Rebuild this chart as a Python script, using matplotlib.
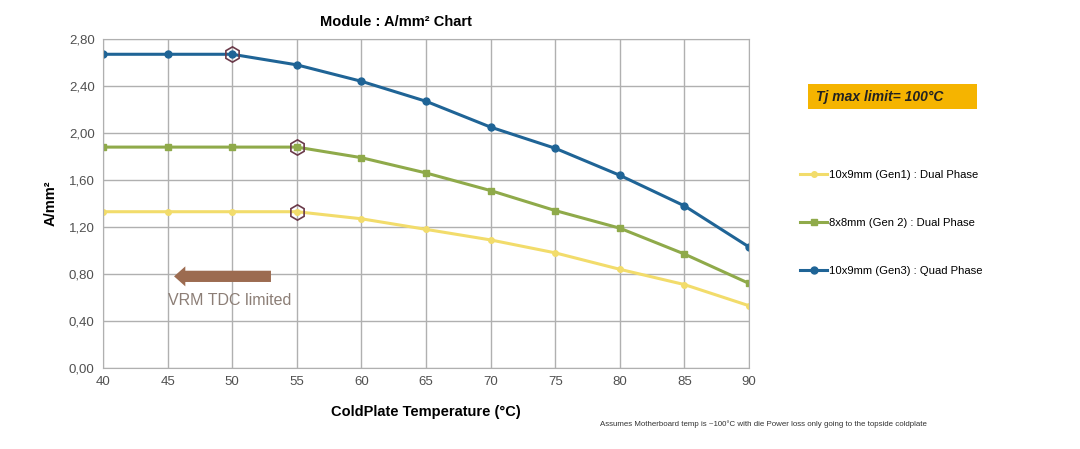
import matplotlib.pyplot as plt
from matplotlib.ticker import FuncFormatter
from matplotlib.patches import Rectangle

plt.rcParams['font.family'] = ['Liberation Sans', 'DejaVu Sans']

# Dados
temperatura = [40, 45, 50, 55, 60, 65, 70, 75, 80, 85, 90]
gen1 = [1.33, 1.33, 1.33, 1.33, 1.27, 1.18, 1.09, 0.98, 0.84, 0.71, 0.53]
gen2 = [1.88, 1.88, 1.88, 1.88, 1.79, 1.66, 1.51, 1.34, 1.19, 0.97, 0.72]
gen3 = [2.67, 2.67, 2.67, 2.58, 2.44, 2.27, 2.05, 1.87, 1.64, 1.38, 1.03]

rotulos = ['10x9mm (Gen1) : Dual Phase',
           '8x8mm (Gen 2) : Dual Phase',
           '10x9mm (Gen3) : Quad Phase']
cores = ['#F2DC6B', '#8FAA4A', '#1F6496']

# pontos destacados (limite VRM)
destaque_x = [50, 55, 55]
destaque_y = [2.67, 1.88, 1.33]

fig = plt.figure(figsize=(10.8, 4.49), dpi=100)
ax = fig.add_axes([103/1080, 1-368/449, 646/1080, 329/449])

ax.plot(temperatura, gen1, '-o', color=cores[0], lw=2.2, ms=4, label=rotulos[0])
ax.plot(temperatura, gen2, '-s', color=cores[1], lw=2.2, ms=4, label=rotulos[1])
ax.plot(temperatura, gen3, '-o', color=cores[2], lw=2.2, ms=5, label=rotulos[2])
ax.plot(destaque_x, destaque_y, 'h', ms=11, mfc='none', mec='#6B3A4A', mew=1.2)

ax.set_xlim(40, 90)
ax.set_ylim(0, 2.8)
ax.set_xticks(temperatura)
ax.set_yticks([0, 0.4, 0.8, 1.2, 1.6, 2.0, 2.4, 2.8])
ax.yaxis.set_major_formatter(FuncFormatter(lambda v, p: f'{v:.2f}'.replace('.', ',')))
ax.grid(True, color='#B0B0B0', lw=1)
ax.set_axisbelow(True)
for s in ax.spines.values():
    s.set_color('#B0B0B0')
ax.tick_params(length=0, labelsize=9.5, colors='#505050', pad=6)

ax.set_xlabel('ColdPlate Temperature (°C)', fontsize=10.5, fontweight='bold', labelpad=12)
ax.set_ylabel('A/mm²', fontsize=10.5, fontweight='bold', labelpad=8)
fig.text(396/1080, 1-22/449, 'Module : A/mm² Chart', ha='center', va='center',
         fontsize=10.5, fontweight='bold')

# seta VRM
ax.annotate('', xy=(45.5, 0.78), xytext=(53.0, 0.78),
            arrowprops=dict(arrowstyle='simple,head_width=1.6,head_length=0.9,tail_width=0.9',
                            fc='#9C6B50', ec='none', mutation_scale=9,
                            shrinkA=0, shrinkB=0))
ax.text(45.0, 0.575, 'VRM TDC limited', fontsize=11.5, color='#8C7E76', va='center')

# caixa Tj max
fig.add_artist(Rectangle((808/1080, 1-109/449), 169/1080, 25/449,
                         transform=fig.transFigure, fc='#F5B400', ec='none'))
fig.text(816/1080, 1-97/449, 'Tj max limit= 100°C', fontsize=10, fontweight='bold',
         fontstyle='italic', color='#222222', va='center')

fig.legend(loc='upper left', bbox_to_anchor=(790/1080, 1-160/449), frameon=False,
           fontsize=8.1, labelspacing=3.35, handlelength=2.4, handletextpad=0.2)

fig.text(600/1080, 1-424/449,
         'Assumes Motherboard temp is ~100°C with die Power loss only going to the topside coldplate',
         fontsize=5.7, color='#333333', va='center')

fig.savefig('out.png', dpi=100)
